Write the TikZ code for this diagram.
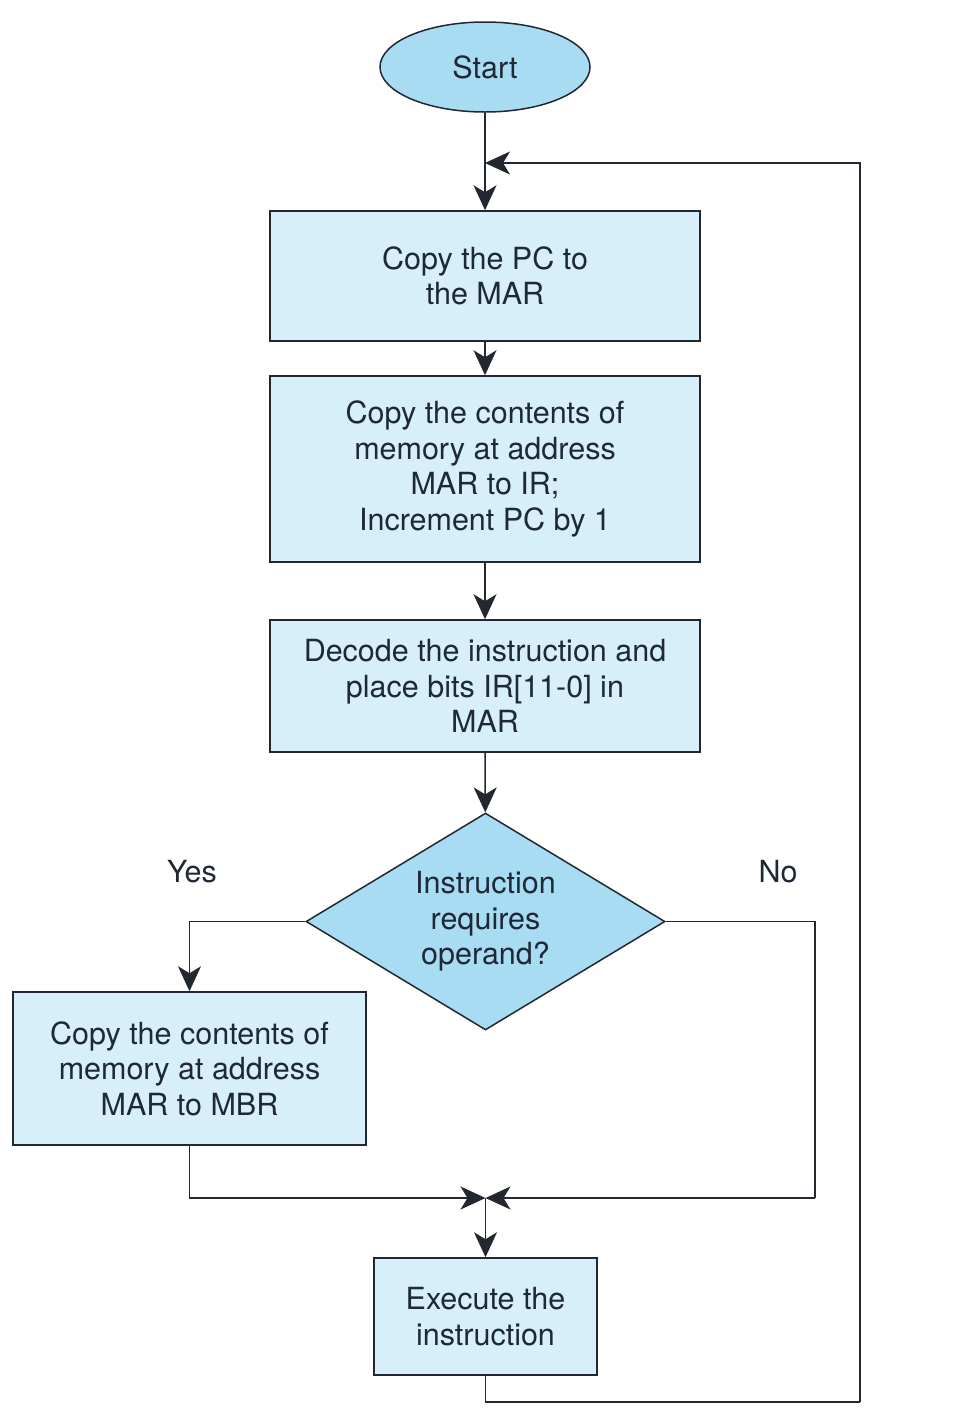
\documentclass[tikz,border=0pt]{standalone}
\usepackage{fontspec}
\setmainfont{TeX Gyre Heros}
\usetikzlibrary{shapes.geometric,arrows.meta}
\definecolor{boxfill}{RGB}{214,239,250}
\definecolor{darkfill}{RGB}{168,220,243}
\definecolor{ink}{RGB}{35,40,48}
\definecolor{txt}{RGB}{30,40,55}
\begin{document}
\begin{tikzpicture}[x=1pt,y=-1pt,
  every node/.style={font=\fontsize{30.5}{35.5}\selectfont, text=txt, align=center},
  procbox/.style={draw=ink, line width=1.5pt, fill=boxfill, rectangle, inner sep=0pt},
  startnode/.style={draw=ink, line width=1.5pt, fill=darkfill, ellipse, minimum width=210, minimum height=90, inner sep=0pt},
  decnode/.style={draw=ink, line width=1.5pt, fill=darkfill, diamond, aspect=1.654, minimum width=359, minimum height=217, inner sep=0pt},
  arr/.style={draw=ink, line width=1.5pt, -{Stealth[length=25pt,width=23pt,inset=7pt]}},
  ln/.style={draw=ink, line width=1.5pt}]
\useasboundingbox (0,0) rectangle (966,1428);
\node[startnode] (start) at (485,67) {Start};
\node[procbox, minimum width=430, minimum height=130] (b1) at (485,276) {Copy the PC to\\the MAR};
\node[procbox, minimum width=430, minimum height=186] (b2) at (485,469) {Copy the contents of\\memory at address\\MAR to IR;\\Increment PC by 1};
\node[procbox, minimum width=430, minimum height=132] (b3) at (485,686) {Decode the instruction and\\place bits IR[11-0] in\\MAR};
\node[decnode] (dec) at (485.5,921.5) {Instruction\\requires\\operand?};
\node[procbox, minimum width=353, minimum height=153] (b4) at (189.5,1068.5) {Copy the contents of\\memory at address\\MAR to MBR};
\node[procbox, minimum width=223, minimum height=117] (b5) at (485.5,1316.5) {Execute the\\instruction};
\node (yes) at (192,872) {Yes};
\node (no) at (778,872) {No};
\coordinate (fb) at (485,163);
\coordinate (m) at (485.5,1198);
\coordinate (nr) at (815,1198);
\coordinate (br) at (860,1402);
\draw[arr] (start) -- (b1);
\draw[arr] (b1) -- (b2);
\draw[arr] (b2) -- (b3);
\draw[arr] (b3) -- (dec);
\draw[arr] (dec.west) -| (b4.north);
\draw[arr] (b4.south) |- (m);
\draw[ln] (dec.east) -| (nr);
\draw[arr] (nr) -- (m);
\draw[arr] (m) -- (b5);
\draw[ln] (b5.south) |- (br);
\draw[arr] (br) |- (fb);
\end{tikzpicture}
\end{document}
